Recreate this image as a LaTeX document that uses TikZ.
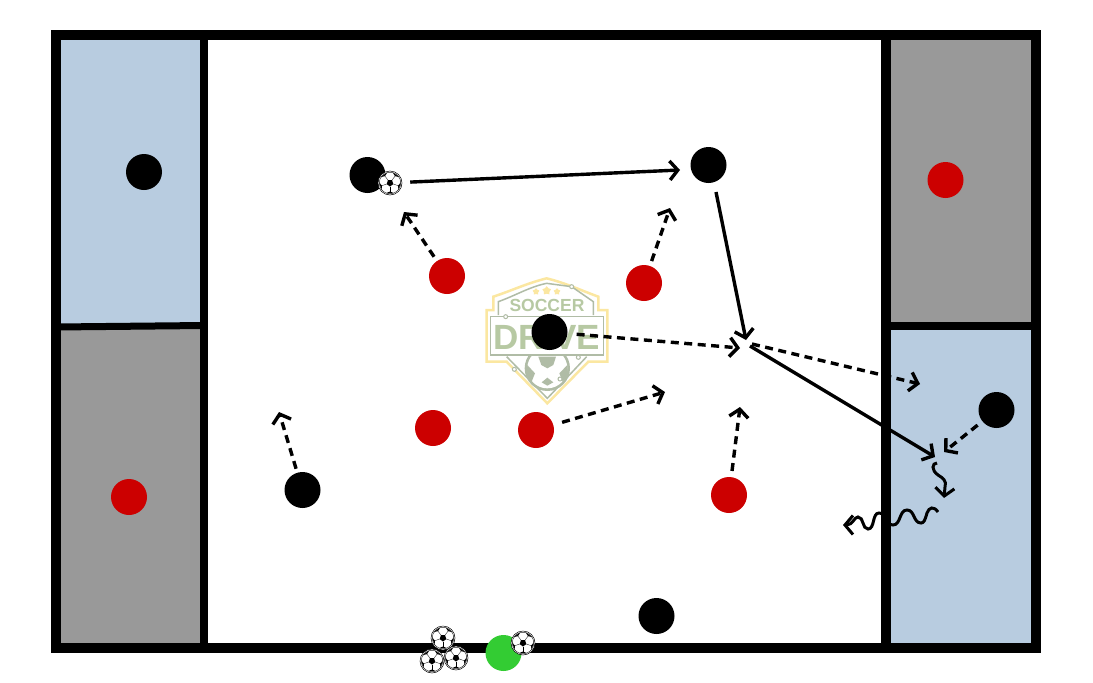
\documentclass[tikz,border=0pt]{standalone}
\usepackage{fontspec}
\setsansfont{Liberation Sans}
\usepackage{tikz}
\usetikzlibrary{arrows.meta}
\usetikzlibrary{shapes.geometric}
\definecolor{zoneblue}{HTML}{B8CCE0}
\definecolor{zonegrey}{HTML}{999999}
\definecolor{playerred}{HTML}{CC0000}
\definecolor{coachgreen}{HTML}{33CC33}
\definecolor{logogold}{HTML}{FBE7A1}
\definecolor{logosage}{HTML}{B7C9A3}
\definecolor{logoline}{HTML}{B0BCA6}
\tikzset{
	player/.style = {circle,inner sep=0pt,minimum size=36pt},
	blackplayer/.style = {player,fill=black},
	redplayer/.style = {player,fill=playerred},
	coach/.style = {player,fill=coachgreen},
	soccerball/.style = {circle,draw=black,line width=0.5pt,fill=white,inner sep=0pt,minimum size=24pt,
		path picture={
			\begin{scope}[shift={(path picture bounding box.center)},rotate=#1]
				\fill[black] (90:3.5) -- (162:3.5) -- (234:3.5) -- (306:3.5) -- (18:3.5) -- cycle;
				\foreach \a in {90,162,234,306,18} {
					\draw[black,line width=0.3pt] (\a:3.5) -- (\a:9);
					\fill[black] (\a:8.5) -- (\a-22:11) -- (\a+22:11) -- cycle;
				}
				\draw[black,line width=0.4pt] (0,0) circle (10.8);
			\end{scope}
		}},
	wall/.style = {draw=black,line width=10pt},
	pass/.style = {draw=black,line width=3.4pt,-{Straight Barb[length=8pt,width=19pt]}},
	run/.style = {pass,dash pattern=on 8pt off 5.5pt},
	dribble/.style = {pass,line width=3pt},
}
\begin{document}
\begin{tikzpicture}[x=1pt,y=-1pt]
	\useasboundingbox (0,0) rectangle (1093,683);
	\fill[zoneblue] (56,35) rectangle (204,325);
	\fill[zonegrey] (56,325) rectangle (204,648);
	\fill[zonegrey] (886,35) rectangle (1036,326);
	\fill[zoneblue] (886,326) rectangle (1036,648);

	\begin{scope}[shift={(470,265)},scale=1/3]
		\draw[logogold,line width=2.5pt,fill=white] (70,95) .. controls (130,75) and (170,55) .. (230,40) .. controls (290,55) and (330,75) .. (385,95) -- (385,135) -- (412,135) -- (412,290) -- (355,290) -- (232,415) -- (110,290) -- (50,290) -- (50,135) -- (70,135) -- cycle;
		\draw[logoline,line width=1.5pt] (85,150) -- (85,110) .. controls (140,90) and (180,65) .. (230,55) -- (305,65) -- (370,110) -- (370,150);
		\draw[logoline,line width=1.5pt] (110,275) -- (232,400) -- (350,275);
		\fill[logoline] (232,310) circle (68);
		\fill[white] (232,310) circle (60);
		\fill[logoline] (205,275) -- (258,275) -- (250,300) -- (232,310) -- (214,300) -- cycle;
		\fill[logoline] (172,300) -- (195,325) -- (185,350) -- (170,330) -- cycle;
		\fill[logoline] (292,300) -- (268,325) -- (278,350) -- (294,330) -- cycle;
		\fill[logoline] (215,352) -- (232,338) -- (250,352) -- (232,362) -- cycle;
		\draw[logoline,line width=1.5pt,fill=white] (62,155) rectangle (400,270);
		\draw[logoline,line width=1pt,fill=white] (305,65) circle (6);
		\draw[logoline,line width=1pt,fill=white] (107,155) circle (6);
		\draw[logoline,line width=1pt,fill=white] (325,277) circle (6);
		\draw[logoline,line width=1pt,fill=white] (133,313) circle (6);
		\draw[logoline,line width=1pt,fill=white] (270,342) circle (6);
		\node[star,star points=5,fill=logogold,inner sep=0pt,minimum size=7pt] at (198,80) (logostar1) {};
		\node[star,star points=5,fill=logogold,inner sep=0pt,minimum size=9pt] at (230,77) (logostar2) {};
		\node[star,star points=5,fill=logogold,inner sep=0pt,minimum size=7pt] at (261,80) (logostar3) {};
		\node[text=logosage,font=\sffamily\bfseries\fontsize{17.5}{18}\selectfont,inner sep=0pt] at (231,122) (logotop) {SOCCER};
		\node[text=logosage,font=\sffamily\bfseries\fontsize{35}{35}\selectfont,inner sep=0pt] at (230,218) (logomain) {DRIVE};
	\end{scope}

	\draw[wall] (56,35) rectangle (1036,648);
	\draw[wall,line width=8pt] (204,35) -- (204,648);
	\draw[wall] (886,35) -- (886,648);
	\draw[wall,line width=7pt] (56,327) -- (204,325.5);
	\draw[wall,line width=8pt] (886,326) -- (1036,326);

	\node[blackplayer] at (144,172) (keeperleft) {};
	\node[blackplayer] at (367.5,175) (passer) {};
	\node[blackplayer] at (708.5,165) (receiver) {};
	\node[blackplayer] at (549.5,332) (middle) {};
	\node[blackplayer] at (302.5,490) (winger) {};
	\node[blackplayer] at (656.5,616) (bottom) {};
	\node[blackplayer] at (996.5,410) (keeperright) {};
	\node[redplayer] at (945.5,180) (redright) {};
	\node[redplayer] at (129,497) (redleft) {};
	\node[redplayer] at (447,276) (reda) {};
	\node[redplayer] at (644,283) (redb) {};
	\node[redplayer] at (433,428) (redc) {};
	\node[redplayer] at (536,430) (redd) {};
	\node[redplayer] at (729,495) (rede) {};
	\node[coach] at (503.5,653) (coach) {};
	\node[soccerball=15] at (390,183) (ballpasser) {};
	\node[soccerball=40] at (443,638) (balla) {};
	\node[soccerball=10] at (432,661) (ballb) {};
	\node[soccerball=70] at (456,658) (ballc) {};
	\node[soccerball=25] at (523,643) (balld) {};

	\coordinate (passend) at (680,170);
	\coordinate (receiverout) at (716,192);
	\coordinate (meet) at (746,340);
	\coordinate (meetout) at (750,346);
	\coordinate (goalshot) at (935,457);
	\coordinate (middleend) at (740,348);
	\coordinate (middleout) at (752,344);
	\coordinate (middlegoal) at (920,384);
	\coordinate (redaend) at (404,212);
	\coordinate (redbend) at (670,208);
	\coordinate (reddend) at (665,392);
	\coordinate (redeend) at (740,407);
	\coordinate (wingerend) at (279,412);
	\coordinate (keeperend) at (944,452);
	\coordinate (dribblea) at (937,463);
	\coordinate (dribbleaend) at (944,498);
	\coordinate (dribbleb) at (938,512);
	\coordinate (dribblebend) at (843,525);

	\draw[pass,shorten <=8pt] (ballpasser) to (passend);
	\draw[pass] (receiverout) to (meet);
	\draw[pass] (meetout) to (goalshot);
	\draw[run,shorten <=9pt] (middle) to (middleend);
	\draw[run] (middleout) to (middlegoal);
	\draw[run,shorten <=5pt] (reda) to (redaend);
	\draw[run,shorten <=5pt] (redb) to (redbend);
	\draw[run,shorten <=9pt] (redd) to (reddend);
	\draw[run,shorten <=6pt] (rede) to (redeend);
	\draw[run,shorten <=4pt] (winger) to (wingerend);
	\draw[run,shorten <=6pt] (keeperright) to (keeperend);
	\draw[dribble] (dribblea) .. controls (932,463) and (931,470) .. (938,475) .. controls (943,478) and (947,481) .. (945,487) -- (dribbleaend);
	\draw[dribble] (dribbleb) .. controls (934,506) and (929,507) .. (927,513) .. controls (925,520) and (924,523) .. (921,523) .. controls (913,523) and (915,510) .. (907,510) .. controls (899,510) and (901,525) .. (893,525) .. controls (885,525) and (887,513) .. (879,513) .. controls (872,513) and (875,529) .. (868,529) .. controls (862,529) and (864,517) .. (858,517) .. controls (854,517) and (853,525) .. (dribblebend);
\end{tikzpicture}
\end{document}
